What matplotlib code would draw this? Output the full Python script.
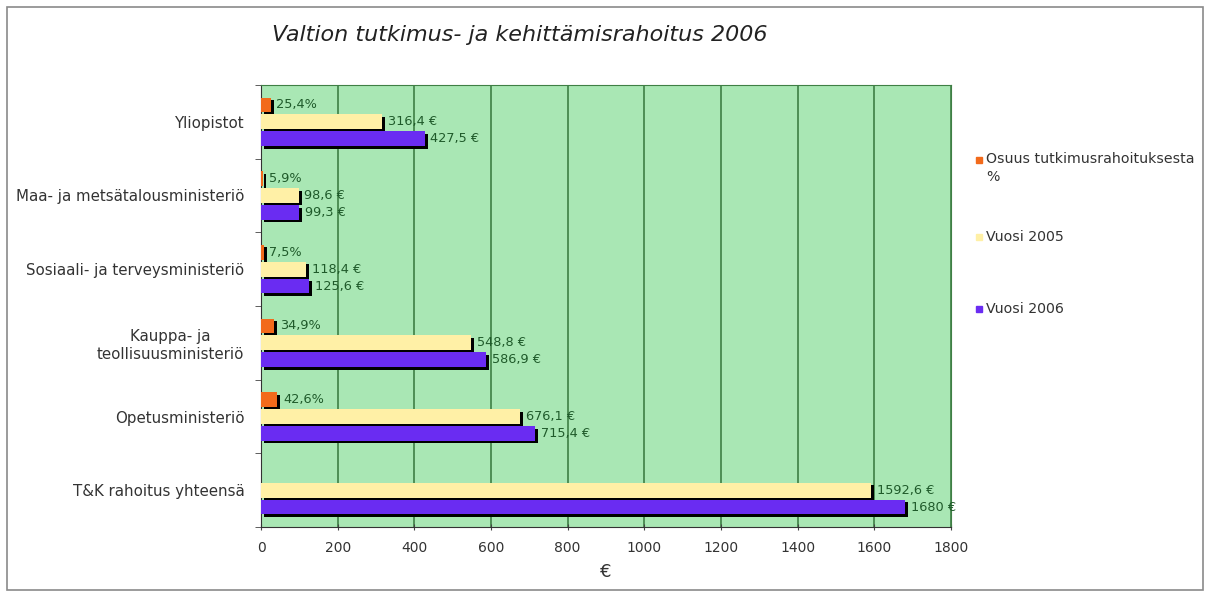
import numpy as np
import matplotlib
matplotlib.use('Agg')
import matplotlib.pyplot as plt
import matplotlib.patheffects as pe
from matplotlib.patches import Rectangle

# Chart data
categories = ['Yliopistot', 'Maa- ja metsätalousministeriö',
              'Sosiaali- ja terveysministeriö', 'Kauppa- ja\nteollisuusministeriö',
              'Opetusministeriö', 'T&K rahoitus yhteensä']
osuus_pct = [25.4, 5.9, 7.5, 34.9, 42.6, np.nan]
vuosi_2005 = [316.4, 98.6, 118.4, 548.8, 676.1, 1592.6]
vuosi_2006 = [427.5, 99.3, 125.6, 586.9, 715.4, 1680]
series_names = ['Osuus tutkimusrahoituksesta\n%', 'Vuosi 2005', 'Vuosi 2006']

colors = ['#f26a1b', '#fff0a6', '#6a2cf2']
green_bg = '#a9e7b4'
grid_col = '#3f7f45'
label_col = '#1f5a2a'
text_col = '#333333'

W, H = 1211, 595
fig = plt.figure(figsize=(W / 100, H / 100), dpi=100)

# outer border of the chart
fig.add_artist(Rectangle((7 / W, 5 / H), 1196 / W, 583 / H, transform=fig.transFigure,
                         fill=False, edgecolor='#8a8a8a', linewidth=1.2))

ax = fig.add_axes([261 / W, 1 - 527 / H, 690 / W, 442 / H])
ax.set_facecolor(green_bg)

y = np.arange(len(categories))
h = 0.2
step = 0.23
shadow = [pe.SimplePatchShadow(offset=(2, -1.8), shadow_rgbFace='black', alpha=1), pe.Normal()]

def fmt(v, suffix):
    s = f'{v:g}'.replace('.', ',')
    return s + suffix

for vals, off, col, suffix in [(osuus_pct, -step, colors[0], '%'),
                               (vuosi_2005, 0, colors[1], ' €'),
                               (vuosi_2006, step, colors[2], ' €')]:
    bars = ax.barh(y + off, vals, height=h, color=col, zorder=3)
    for b in bars:
        b.set_path_effects(shadow)
    for yi, v in zip(y, vals):
        if np.isnan(v):
            continue
        ax.annotate(fmt(v, suffix), (v, yi + off), xytext=(4, 0), textcoords='offset points',
                    va='center', ha='left', fontsize=9.3, color=label_col, zorder=4)

ax.set_xlim(0, 1800)
ax.set_ylim(len(categories) - 0.5, -0.5)
ax.set_xticks(np.arange(0, 1801, 200))
ax.grid(axis='x', color=grid_col, linewidth=1.2, zorder=1)
ax.set_axisbelow(True)

ax.set_yticks(y)
ax.set_yticklabels(categories, fontsize=10.8, multialignment='center', color=text_col)
ax.tick_params(axis='y', length=0, pad=12)
ax.set_yticks(np.arange(-0.5, len(categories), 1), minor=True)
ax.tick_params(axis='y', which='minor', length=4, direction='out', color='#444444')
ax.tick_params(axis='x', length=4, direction='inout', color='#444444', labelsize=10,
               pad=8, labelcolor=text_col)

for side in ['top', 'right']:
    ax.spines[side].set_color(grid_col)
ax.spines['left'].set_color('#333333')
ax.spines['bottom'].set_color('#333333')

ax.set_xlabel('€', fontsize=13, labelpad=6, color=text_col)

fig.text(272 / W, 1 - 35 / H, 'Valtion tutkimus- ja kehittämisrahoitus 2006',
         fontsize=16, style='italic', va='center', ha='left', color='#222222')

# legend on the right
leg_y = [160, 237, 309]
for yy, col, name in zip(leg_y, colors, series_names):
    fig.add_artist(Rectangle((976 / W, 1 - (yy + 3) / H), 6 / W, 6 / H,
                             transform=fig.transFigure, color=col))
    if '\n' in name:
        fig.text(986 / W, 1 - (yy - 8) / H, name, fontsize=10.2, va='top', ha='left',
                 linespacing=1.4, color=text_col)
    else:
        fig.text(986 / W, 1 - yy / H, name, fontsize=10.2, va='center', ha='left',
                 color=text_col)

plt.savefig('out.png', dpi=100)
